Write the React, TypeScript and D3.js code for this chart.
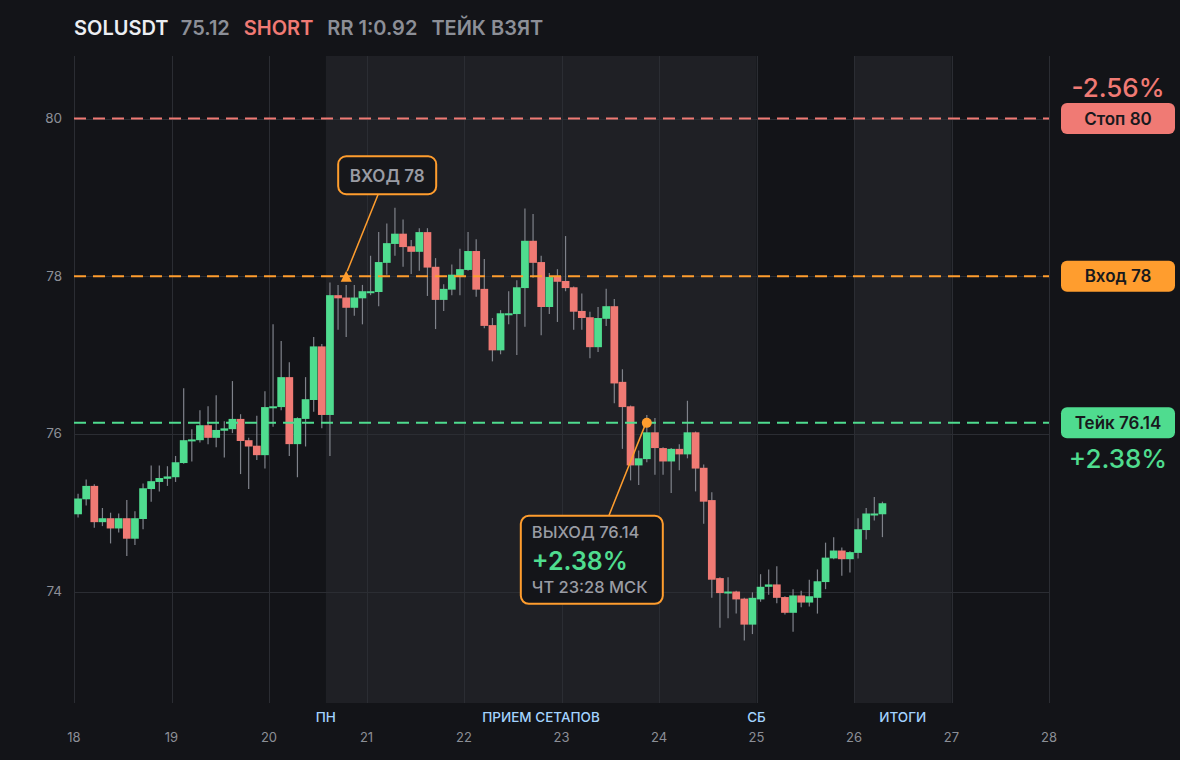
// SOLUSDT short setup — 2h candles with stop / entry / take levels,
// session shading and entry / exit callouts. All d3 work in useEffect.
import { useEffect, useRef } from "react";
import * as d3 from "d3";

const W = 1180;
const H = 760;

const SYMBOL = "SOLUSDT";
const LAST_PRICE = 75.12;
const SIDE = "SHORT";
const RR_TEXT = "RR 1:0.92";
const STATUS = "ТЕЙК ВЗЯТ";

const STOP = 80;
const ENTRY = 78;
const TAKE = 76.14;

const START_DAY = 18; // first candle opens on day 18, 00:00
const CANDLE_HOURS = 2;
const ENTRY_INDEX = 33;
const EXIT_INDEX = 70;
const EXIT_TIME_TEXT = "ЧТ 23:28 МСК";

const DAY_TICKS = [18, 19, 20, 21, 22, 23, 24, 25, 26, 27, 28];
const PRICE_TICKS = [74, 76, 78, 80];

const ZONE_FROM = [20 + 14 / 24, 26];
const ZONE_TO = [25, 27];
const SESSION_LABELS = ["ПН", "ПРИЕМ СЕТАПОВ", "СБ", "ИТОГИ"];
const SESSION_DAYS = [20 + 14 / 24, 22.79, 25, 26.5];

const OPEN = [
  74.98, 75.17, 75.34, 74.88, 74.93, 74.8, 74.93, 74.67, 74.92, 75.3,
  75.39, 75.43, 75.45, 75.63, 75.91, 75.92, 76.11, 75.95, 76.04, 76.06,
  76.19, 75.92, 75.85, 75.73, 76.33, 76.34, 76.72, 75.87, 76.19, 76.43,
  77.11, 76.24, 77.76, 77.73, 77.6, 77.72, 77.79, 77.8, 78.17, 78.41,
  78.54, 78.38, 78.31, 78.56, 78.12, 77.7, 77.83, 78.0, 78.08, 78.32,
  77.84, 77.38, 77.06, 77.51, 77.52, 77.85, 78.45, 78.18, 77.61, 78.0,
  77.94, 77.86, 77.56, 77.48, 77.1, 77.46, 77.62, 76.66, 76.35, 75.6,
  75.68, 76.02, 75.82, 75.65, 75.81, 75.74, 76.02, 75.57, 75.16, 74.17,
  73.98, 74.0, 73.91, 73.58, 73.9, 74.06, 74.09, 73.93, 73.73, 73.95,
  73.86, 73.92, 74.12, 74.42, 74.52, 74.41, 74.49, 74.78, 74.97, 74.98,
];
const HIGH = [
  75.24, 75.42, 75.36, 75.06, 75.0, 74.99, 75.16, 75.02, 75.37, 75.6,
  75.6, 75.59, 75.72, 76.58, 76.06, 76.3, 76.35, 76.49, 76.16, 76.67,
  76.25, 75.95, 76.23, 76.54, 77.39, 77.18, 76.91, 76.21, 76.72, 77.23,
  77.14, 77.92, 77.89, 77.89, 77.89, 77.89, 78.26, 78.56, 78.67, 78.87,
  78.72, 78.46, 78.61, 78.61, 78.23, 77.9, 78.15, 78.35, 78.56, 78.47,
  78.22, 77.47, 77.57, 77.81, 77.95, 78.86, 78.79, 78.26, 78.04, 78.09,
  78.51, 77.87, 77.78, 77.55, 77.61, 77.84, 77.71, 76.82, 76.36, 75.79,
  76.24, 76.2, 75.83, 75.82, 75.87, 76.42, 76.03, 75.61, 75.26, 74.18,
  74.18, 74.01, 73.92, 73.99, 74.22, 74.28, 74.32, 73.94, 74.03, 74.01,
  74.15, 74.28, 74.62, 74.69, 74.56, 74.51, 74.93, 75.06, 75.2, 75.14,
];
const LOW = [
  74.94, 75.09, 74.81, 74.83, 74.61, 74.75, 74.45, 74.59, 74.79, 75.14,
  75.27, 75.34, 75.39, 75.62, 75.65, 75.89, 75.87, 75.83, 75.7, 76.01,
  75.49, 75.3, 75.67, 75.56, 76.09, 76.3, 75.72, 75.45, 75.84, 76.28,
  76.07, 75.72, 77.32, 77.23, 77.5, 77.39, 77.76, 77.62, 78.02, 78.26,
  78.12, 78.03, 78.07, 77.75, 77.33, 77.56, 77.76, 77.76, 78.07, 77.74,
  77.34, 76.92, 77.01, 77.39, 77.0, 77.36, 77.98, 77.25, 77.52, 77.42,
  77.81, 77.32, 77.32, 76.96, 77.04, 77.37, 76.39, 75.81, 75.41, 75.35,
  75.64, 75.48, 75.48, 75.25, 75.54, 75.69, 75.27, 74.86, 73.92, 73.54,
  73.66, 73.72, 73.38, 73.46, 73.87, 73.96, 73.85, 73.71, 73.49, 73.8,
  73.81, 73.72, 74.03, 74.41, 74.2, 74.24, 74.42, 74.66, 74.9, 74.69,
];
const CLOSE = [
  75.18, 75.34, 74.88, 74.93, 74.8, 74.93, 74.67, 74.93, 75.31, 75.4,
  75.44, 75.46, 75.64, 75.92, 75.93, 76.11, 75.95, 76.05, 76.07, 76.19,
  75.91, 75.84, 75.73, 76.34, 76.35, 76.72, 75.87, 76.2, 76.44, 77.11,
  76.24, 77.76, 77.72, 77.6, 77.73, 77.81, 77.81, 78.18, 78.42, 78.54,
  78.37, 78.31, 78.56, 78.11, 77.7, 77.84, 78.02, 78.09, 78.32, 77.83,
  77.37, 77.06, 77.53, 77.53, 77.86, 78.45, 78.17, 77.61, 77.99, 77.93,
  77.85, 77.55, 77.47, 77.1, 77.47, 77.62, 76.64, 76.34, 75.6, 75.69,
  76.02, 75.82, 75.65, 75.81, 75.74, 76.02, 75.56, 75.14, 74.15, 73.98,
  74.0, 73.9, 73.58, 73.92, 74.06, 74.09, 73.92, 73.73, 73.95, 73.86,
  73.94, 74.13, 74.43, 74.52, 74.41, 74.5, 74.79, 74.99, 74.99, 75.12,
];

const C = {
  bg: "#131418",
  zone: "#1f2025",
  grid: "#2b2d33",
  text: "#8c8f97",
  white: "#eceef2",
  up: "#4fdc8f",
  down: "#f07a74",
  orange: "#ff9d2e",
  wick: "#7f828a",
  session: "#a3d3ff",
  badgeText: "#18191d",
};
const FONT = "Inter, 'Noto Sans', sans-serif";

export default function App() {
  const ref = useRef<SVGSVGElement>(null);

  useEffect(() => {
    const node = ref.current;
    if (!node) return;
    const svg = d3.select(node);
    svg.selectAll("*").remove();

    const m = { left: 74, right: 1049, top: 56, bottom: 703 };
    const x = d3.scaleLinear().domain([18, 28]).range([m.left, m.right]);
    const lowMin = d3.min(LOW) ?? 73;
    const pad = (STOP - lowMin) * 0.12;
    const y = d3.scaleLinear().domain([lowMin - pad, STOP + pad]).range([m.bottom, m.top]);

    const step = CANDLE_HOURS / 24;
    const tOf = (i: number) => START_DAY + i * step;
    const bw = x(START_DAY + step) - x(START_DAY);

    svg.append("rect").attr("width", W).attr("height", H).attr("fill", C.bg);

    // session shading
    svg
      .append("g")
      .selectAll("rect")
      .data(ZONE_FROM)
      .join("rect")
      .attr("x", (d) => x(d))
      .attr("y", m.top)
      .attr("width", (d, i) => x(ZONE_TO[i]) - x(d))
      .attr("height", m.bottom - m.top)
      .attr("fill", C.zone);

    // grid
    const grid = svg.append("g").attr("stroke", C.grid).attr("stroke-width", 1);
    grid
      .selectAll("line.v")
      .data(DAY_TICKS)
      .join("line")
      .attr("class", "v")
      .attr("x1", (d) => Math.round(x(d)) + 0.5)
      .attr("x2", (d) => Math.round(x(d)) + 0.5)
      .attr("y1", m.top)
      .attr("y2", m.bottom);
    grid
      .selectAll("line.h")
      .data(PRICE_TICKS)
      .join("line")
      .attr("class", "h")
      .attr("x1", m.left)
      .attr("x2", m.right)
      .attr("y1", (d) => Math.round(y(d)) + 0.5)
      .attr("y2", (d) => Math.round(y(d)) + 0.5);

    // axes labels
    svg
      .append("g")
      .selectAll("text")
      .data(PRICE_TICKS)
      .join("text")
      .attr("x", m.left - 12)
      .attr("y", (d) => y(d) + 4.5)
      .attr("text-anchor", "end")
      .attr("fill", C.text)
      .attr("font-family", FONT)
      .attr("font-size", 13.5)
      .text((d) => d);
    svg
      .append("g")
      .selectAll("text")
      .data(DAY_TICKS)
      .join("text")
      .attr("x", (d) => x(d))
      .attr("y", 742)
      .attr("text-anchor", "middle")
      .attr("fill", C.text)
      .attr("font-family", FONT)
      .attr("font-size", 13)
      .text((d) => d);
    svg
      .append("g")
      .selectAll("text")
      .data(SESSION_LABELS)
      .join("text")
      .attr("x", (d, i) => x(SESSION_DAYS[i]))
      .attr("y", 722)
      .attr("text-anchor", "middle")
      .attr("fill", C.session)
      .attr("font-family", FONT)
      .attr("font-size", 13.5)
      .attr("font-weight", 500)
      .text((d) => d);

    // candles
    const idx = d3.range(OPEN.length);
    const cg = svg.append("g");
    cg.selectAll("line")
      .data(idx)
      .join("line")
      .attr("x1", (i) => x(tOf(i)) + bw / 2)
      .attr("x2", (i) => x(tOf(i)) + bw / 2)
      .attr("y1", (i) => y(HIGH[i]))
      .attr("y2", (i) => y(LOW[i]))
      .attr("stroke", C.wick)
      .attr("stroke-width", 1.2);
    cg.selectAll("rect")
      .data(idx)
      .join("rect")
      .attr("x", (i) => x(tOf(i)) + 0.2)
      .attr("width", bw - 0.4)
      .attr("y", (i) => y(Math.max(OPEN[i], CLOSE[i])))
      .attr("height", (i) => Math.max(2, Math.abs(y(OPEN[i]) - y(CLOSE[i]))))
      .attr("fill", (i) => (CLOSE[i] >= OPEN[i] ? C.up : C.down));

    // levels
    const levels = [
      { v: STOP, c: C.down, label: `Стоп ${STOP}` },
      { v: ENTRY, c: C.orange, label: `Вход ${ENTRY}` },
      { v: TAKE, c: C.up, label: `Тейк ${TAKE}` },
    ];
    svg
      .append("g")
      .selectAll("line")
      .data(levels)
      .join("line")
      .attr("x1", m.left)
      .attr("x2", m.right)
      .attr("y1", (d) => y(d.v))
      .attr("y2", (d) => y(d.v))
      .attr("stroke", (d) => d.c)
      .attr("stroke-width", 2)
      .attr("stroke-dasharray", "12 7");

    const badges = svg
      .append("g")
      .selectAll("g")
      .data(levels)
      .join("g")
      .attr("transform", (d) => `translate(1118,${y(d.v)})`);
    badges
      .append("rect")
      .attr("x", -57)
      .attr("y", -15.5)
      .attr("width", 114)
      .attr("height", 31)
      .attr("rx", 6)
      .attr("fill", (d) => d.c);
    badges
      .append("text")
      .attr("y", 6)
      .attr("text-anchor", "middle")
      .attr("fill", C.badgeText)
      .attr("font-family", FONT)
      .attr("font-size", 17)
      .attr("font-weight", 600)
      .text((d) => d.label);

    const stopPct = ((ENTRY - STOP) / ENTRY) * 100;
    const takePct = ((ENTRY - TAKE) / ENTRY) * 100;
    svg
      .append("text")
      .attr("x", 1118)
      .attr("y", y(STOP) - 22)
      .attr("text-anchor", "middle")
      .attr("fill", C.down)
      .attr("font-family", FONT)
      .attr("font-size", 26)
      .attr("font-weight", 500)
      .text(`${stopPct.toFixed(2)}%`);
    svg
      .append("text")
      .attr("x", 1118)
      .attr("y", y(TAKE) + 45)
      .attr("text-anchor", "middle")
      .attr("fill", C.up)
      .attr("font-family", FONT)
      .attr("font-size", 26)
      .attr("font-weight", 500)
      .text(`+${takePct.toFixed(2)}%`);

    // entry callout
    const ex = x(tOf(ENTRY_INDEX)) + bw / 2;
    const ey = y(ENTRY);
    const eb = { x: ex - 8, y: ey - 120, w: 98, h: 38 };
    svg
      .append("line")
      .attr("x1", eb.x + 40)
      .attr("y1", eb.y + eb.h)
      .attr("x2", ex + 1)
      .attr("y2", ey - 5)
      .attr("stroke", C.orange)
      .attr("stroke-width", 1.5);
    svg
      .append("path")
      .attr("d", `M${ex},${ey - 5.5}L${ex + 5.5},${ey + 5.5}L${ex - 5.5},${ey + 5.5}Z`)
      .attr("fill", C.orange);
    svg
      .append("rect")
      .attr("x", eb.x)
      .attr("y", eb.y)
      .attr("width", eb.w)
      .attr("height", eb.h)
      .attr("rx", 8)
      .attr("fill", "#16171b")
      .attr("stroke", C.orange)
      .attr("stroke-width", 2);
    svg
      .append("text")
      .attr("x", eb.x + eb.w / 2)
      .attr("y", eb.y + 25.5)
      .attr("text-anchor", "middle")
      .attr("fill", "#9a9ca4")
      .attr("font-family", FONT)
      .attr("font-size", 17)
      .attr("font-weight", 600)
      .text(`ВХОД ${ENTRY}`);

    // exit callout
    const xx = x(tOf(EXIT_INDEX)) + bw / 2;
    const xy = y(TAKE);
    const xb = { x: xx - 126, y: xy + 93, w: 142, h: 88 };
    svg
      .append("line")
      .attr("x1", xb.x + 88)
      .attr("y1", xb.y)
      .attr("x2", xx - 2)
      .attr("y2", xy + 3)
      .attr("stroke", C.orange)
      .attr("stroke-width", 1.5);
    svg.append("circle").attr("cx", xx).attr("cy", xy).attr("r", 5).attr("fill", C.orange);
    svg
      .append("rect")
      .attr("x", xb.x)
      .attr("y", xb.y)
      .attr("width", xb.w)
      .attr("height", xb.h)
      .attr("rx", 8)
      .attr("fill", "#141519")
      .attr("stroke", C.orange)
      .attr("stroke-width", 2);
    const tx = xb.x + 11;
    svg
      .append("text")
      .attr("x", tx)
      .attr("y", xb.y + 22)
      .attr("fill", "#9a9ca4")
      .attr("font-family", FONT)
      .attr("font-size", 16.5)
      .attr("font-weight", 500)
      .text(`ВЫХОД ${TAKE}`);
    svg
      .append("text")
      .attr("x", tx)
      .attr("y", xb.y + 54)
      .attr("fill", C.up)
      .attr("font-family", FONT)
      .attr("font-size", 25)
      .attr("font-weight", 600)
      .text(`+${takePct.toFixed(2)}%`);
    svg
      .append("text")
      .attr("x", tx)
      .attr("y", xb.y + 77)
      .attr("fill", "#9a9ca4")
      .attr("font-family", FONT)
      .attr("font-size", 16.5)
      .attr("font-weight", 500)
      .text(EXIT_TIME_TEXT);

    // header
    const head = svg
      .append("text")
      .attr("x", m.left)
      .attr("y", 35)
      .attr("font-family", FONT)
      .attr("font-size", 20)
      .attr("font-weight", 600);
    head.append("tspan").attr("fill", C.white).text(SYMBOL);
    head.append("tspan").attr("dx", 14).attr("fill", C.text).text(LAST_PRICE.toFixed(2));
    head.append("tspan").attr("dx", 14).attr("fill", C.down).text(SIDE);
    head.append("tspan").attr("dx", 14).attr("fill", C.text).text(RR_TEXT);
    head.append("tspan").attr("dx", 14).attr("fill", C.text).text(STATUS);
  }, []);

  return (
    <>
      <style>{`html, body { margin: 0; background: ${C.bg}; }`}</style>
      <svg ref={ref} width={W} height={H} style={{ display: "block" }} />
    </>
  );
}
